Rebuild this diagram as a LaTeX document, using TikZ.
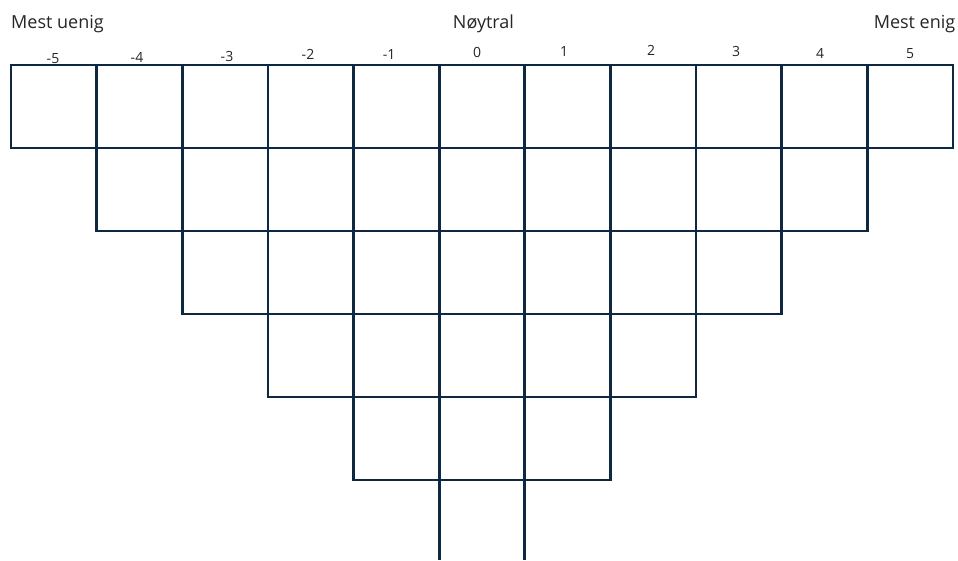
\documentclass[tikz,border=0pt]{standalone}
\usepackage{fontspec}
\setmainfont{Open Sans}
\usetikzlibrary{positioning}
\definecolor{gridnavy}{HTML}{0E2841}
\definecolor{labelgray}{HTML}{262626}

\begin{document}
\begin{tikzpicture}[x=1pt, y=-1pt,
  cell/.style={draw=gridnavy, line width=2.7pt, line join=miter},
  scaletext/.style={text=labelgray, font=\fontsize{14}{16}\selectfont, inner sep=0pt, anchor=base},
  endtext/.style={text=labelgray, font=\fontsize{18}{22}\selectfont, inner sep=0pt}]
  \useasboundingbox (0,0) rectangle (958,560);
  % column width and row height of the grid
  \def\cw{85.64}
  \def\rh{83}
  % rows of cells, one column less on each side per row
  \foreach \r in {0,...,4} {
    \pgfmathtruncatemacro{\last}{10-\r}
    \foreach \c in {\r,...,\last}
      \draw[cell] ({11+\c*\cw},{65+\r*\rh}) rectangle ++(\cw,\rh);
  }
  % open bottom cell under the neutral column
  \coordinate (stemL) at ({11+5*\cw},{65+5*\rh});
  \coordinate (stemR) at ({11+6*\cw},{65+5*\rh});
  \draw[cell] (stemL) -- ++(0,80);
  \draw[cell] (stemR) -- ++(0,80);
  % scale values above the columns
  \foreach \v/\px/\py [count=\i] in {-5/53/63.3, -4/137/62.7, -3/227/61.3,
      -2/308/59.3, -1/389/59.3, 0/477/57.3, 1/564/56.7, 2/651/55.7,
      3/736/56.7, 4/820/58.3, 5/910/58}
    \node[scaletext] (val\i) at (\px,\py) {\v};
  % end and middle labels
  \node[endtext, anchor=base west] (disagree) at (11,28.5) {Mest uenig};
  \node[endtext, anchor=base] (neutral) at (483.5,28.5) {Nøytral};
  \node[endtext, anchor=base east] (agree) at (955.5,28.5) {Mest enig};
\end{tikzpicture}
\end{document}
